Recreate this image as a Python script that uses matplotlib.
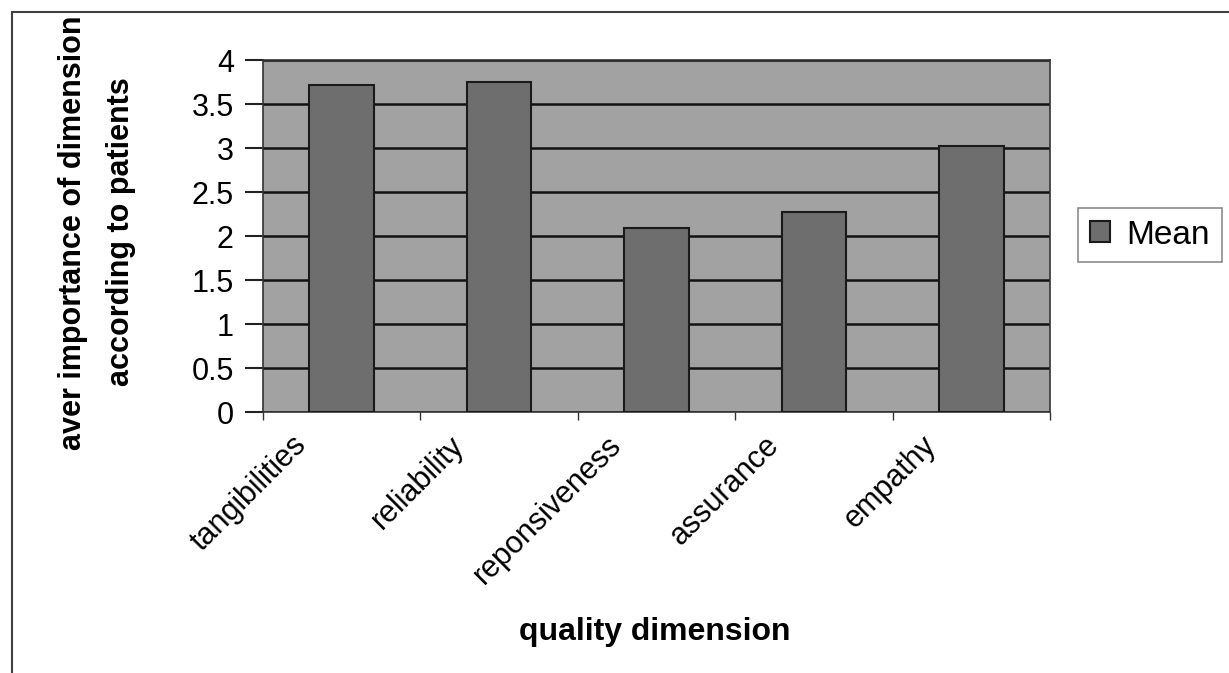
import matplotlib
matplotlib.use("Agg")
import matplotlib.pyplot as plt
from matplotlib.patches import Rectangle
from matplotlib.ticker import FixedLocator, FuncFormatter
from matplotlib.transforms import ScaledTranslation

# mean importance of each quality dimension
dimensions = ["tangibilities", "reliability", "reponsiveness", "assurance", "empathy"]
means = [3.72, 3.75, 2.09, 2.27, 3.02]
y_ticks = [0, 0.5, 1, 1.5, 2, 2.5, 3, 3.5, 4]

plt.rcParams['font.family'] = ['Liberation Sans', 'DejaVu Sans']

fig = plt.figure(figsize=(12.29, 6.73), dpi=100)
fig.patch.set_facecolor('white')

# outer chart frame, running off the right and bottom edges
frame = Rectangle((12 / 1229, -0.2), 1.3, 1.2 - 12 / 673,
                  transform=fig.transFigure, fill=False, edgecolor='#404040',
                  linewidth=1.5)
fig.patches.append(frame)

ax = fig.add_axes([263 / 1229, 1 - 412 / 673, (1050 - 263) / 1229, (412 - 60) / 673])
ax.set_facecolor('#a2a2a2')

x = list(range(len(dimensions)))
ax.bar(x, means, width=0.41, color='#6e6e6e', edgecolor='#1a1a1a',
       linewidth=1.5, label='Mean', zorder=3)

ax.set_xlim(-0.5, len(dimensions) - 0.5)
ax.set_ylim(0, 4)
ax.yaxis.set_major_locator(FixedLocator(y_ticks))
ax.yaxis.set_major_formatter(FuncFormatter(lambda v, pos: f"{v:g}"))
ax.grid(axis='y', color='#111111', linewidth=1.8, zorder=1)
ax.set_axisbelow(True)

# category boundaries carry the tick marks, centers carry the labels
ax.set_xticks([i - 0.5 for i in range(len(dimensions) + 1)])
ax.set_xticklabels([])
ax.set_xticks(x, minor=True)
ax.set_xticklabels(dimensions, minor=True, rotation=45, ha='right', va='top',
                   rotation_mode='anchor', fontsize=22)
ax.tick_params(axis='x', which='major', length=6, width=1, color='#333333')
ax.tick_params(axis='x', which='minor', length=0, pad=13)
ax.tick_params(axis='y', which='major', length=13, width=1.5, pad=8,
               labelsize=22, color='#222222')
for label in ax.get_xticklabels(minor=True):
    label.set_transform(label.get_transform() +
                        ScaledTranslation(-50 / 100, 0, fig.dpi_scale_trans))

for spine in ax.spines.values():
    spine.set_color('#333333')
    spine.set_linewidth(1.2)

fig.text(655 / 1229, 1 - 632 / 673, "quality dimension", ha='center', va='center',
         fontsize=23, fontweight='bold')
fig.text(73 / 1229, 1 - 233 / 673, "aver importance of dimension", rotation=90,
         ha='center', va='center', fontsize=22, fontweight='bold')
fig.text(121 / 1229, 1 - 232 / 673, "according to patients", rotation=90,
         ha='center', va='center', fontsize=22, fontweight='bold')

leg = fig.legend(loc='center left', bbox_to_anchor=(1078 / 1229, 1 - 235 / 673),
                 fontsize=24, fancybox=False, frameon=True, handlelength=0.6,
                 handleheight=0.6, handletextpad=0.5, borderpad=0.35,
                 borderaxespad=0)
leg.get_frame().set_edgecolor('#707070')
leg.get_frame().set_linewidth(1.2)

fig.savefig("out.png", dpi=100)
